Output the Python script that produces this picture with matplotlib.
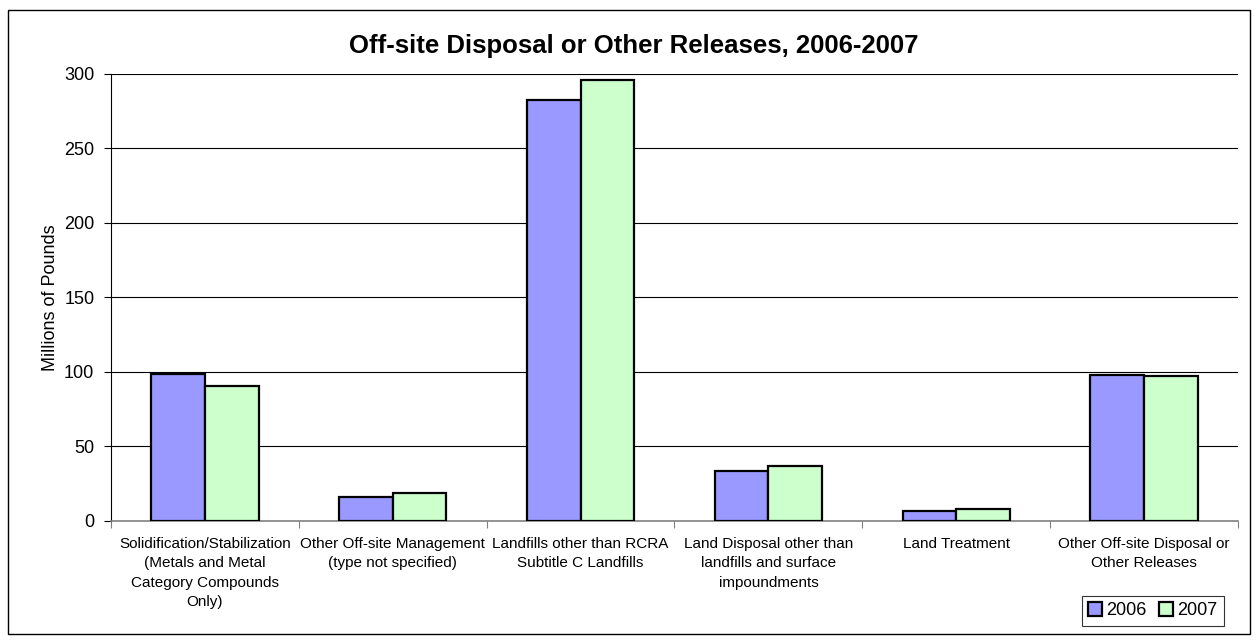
import matplotlib
matplotlib.use("Agg")
import matplotlib.pyplot as plt
from matplotlib.patches import Rectangle
import numpy as np

plt.rcParams['font.family'] = ['Liberation Sans', 'DejaVu Sans']

categories = [
    "Solidification/Stabilization\n(Metals and Metal\nCategory Compounds\nOnly)",
    "Other Off-site Management\n(type not specified)",
    "Landfills other than RCRA\nSubtitle C Landfills",
    "Land Disposal other than\nlandfills and surface\nimpoundments",
    "Land Treatment",
    "Other Off-site Disposal or\nOther Releases",
]
series_names = ["2006", "2007"]
values_2006 = [98.2, 16.0, 282.6, 33.4, 6.5, 97.8]
values_2007 = [90.4, 18.7, 295.6, 36.7, 8.0, 97.2]
y_ticks = [0, 50, 100, 150, 200, 250, 300]

colors = ["#9999FF", "#CCFFCC"]

fig = plt.figure(figsize=(12.59, 6.4), dpi=100)
# outer chart frame
fig.patches.append(Rectangle((8 / 1259, 1 - 634 / 640), 1242 / 1259, 624 / 640,
                             transform=fig.transFigure, fill=False,
                             edgecolor="black", linewidth=1.0))

ax = fig.add_axes([111 / 1259, 1 - 520.7 / 640, 1127 / 1259, 447 / 640])

x = np.arange(len(categories))
bw = 1 / 3.5
ax.bar(x - bw / 2, values_2006, width=bw, color=colors[0], edgecolor="black",
       linewidth=1.6, label=series_names[0], zorder=3)
ax.bar(x + bw / 2, values_2007, width=bw, color=colors[1], edgecolor="black",
       linewidth=1.6, label=series_names[1], zorder=3)

ax.set_xlim(-0.5, len(categories) - 0.5)
ax.set_ylim(0, 300)
ax.set_yticks(y_ticks)
ax.tick_params(axis="y", labelsize=13, direction="out", length=5, width=0.8,
               pad=7, colors="black")
for yv in y_ticks[1:]:
    ax.axhline(yv, color="black", linewidth=0.8, zorder=1)

# category boundaries as x ticks, labels centred below each group
ax.set_xticks(np.arange(len(categories) + 1) - 0.5)
ax.set_xticklabels([])
ax.tick_params(axis="x", direction="out", length=5, width=0.8, colors="gray")
for i, lab in enumerate(categories):
    ax.text(i, -11, lab, ha="center", va="top", fontsize=11, linespacing=1.48)

for s in ["top", "right"]:
    ax.spines[s].set_visible(False)
ax.spines["left"].set_color("black")
ax.spines["left"].set_linewidth(0.8)
ax.spines["bottom"].set_color("gray")
ax.spines["bottom"].set_linewidth(1.2)

ax.set_ylabel("Millions of Pounds", fontsize=13, labelpad=4)

fig.text(634 / 1259, 1 - 46 / 640, "Off-site Disposal or Other Releases, 2006-2007",
         ha="center", va="center", fontsize=18.5, fontweight="bold")

leg = fig.legend(loc="upper left", bbox_to_anchor=(1082 / 1259, 1 - 596 / 640),
                 ncol=2, fontsize=13, frameon=True, fancybox=False,
                 handlelength=0.75, handleheight=0.75, handletextpad=0.25,
                 columnspacing=0.7, borderpad=0.35, borderaxespad=0)
leg.get_frame().set_edgecolor("black")
leg.get_frame().set_linewidth(0.8)

fig.savefig("out.png", dpi=100)
